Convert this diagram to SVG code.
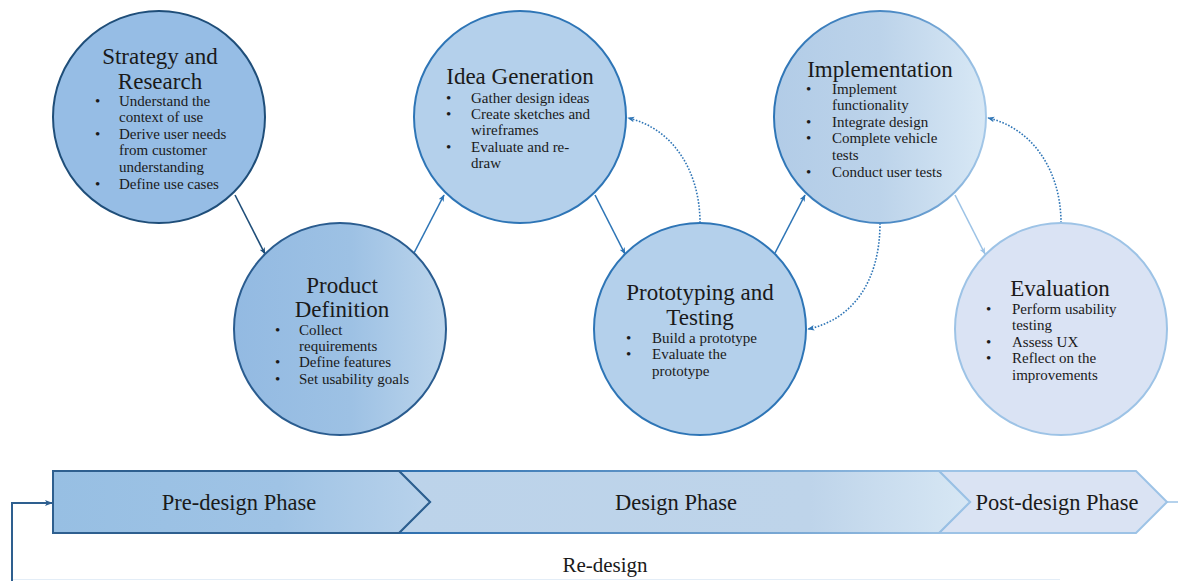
<svg xmlns="http://www.w3.org/2000/svg" width="1178" height="581" viewBox="0 0 1178 581">
<style>
text{font-family:'Liberation Serif','DejaVu Serif',serif;fill:#1a1a1a}
.t{font-size:23px;text-anchor:middle}
.b{font-size:15px}
.ph{font-size:22.5px;text-anchor:middle}
.node circle{stroke-width:2}
.arr{fill:none;stroke-width:1.6}
.dot{fill:none;stroke:#2e75b6;stroke-width:1.6;stroke-dasharray:1.6 1.6}
</style>
<defs>
<linearGradient id="g2" x1="0" y1="0" x2="1" y2="0"><stop offset="0" stop-color="#93bae2"/><stop offset="0.55" stop-color="#9dc1e4"/><stop offset="1" stop-color="#bcd5ec"/></linearGradient>
<linearGradient id="g5" x1="0" y1="0" x2="1" y2="0"><stop offset="0" stop-color="#b2cce7"/><stop offset="0.5" stop-color="#bcd3ea"/><stop offset="1" stop-color="#d8e8f5"/></linearGradient>
<linearGradient id="s5" x1="0" y1="0" x2="1" y2="0"><stop offset="0" stop-color="#2e75b6"/><stop offset="0.6" stop-color="#4f8cc6"/><stop offset="1" stop-color="#a5c8e8"/></linearGradient>
<linearGradient id="p1" gradientUnits="userSpaceOnUse" x1="53" y1="0" x2="430" y2="0"><stop offset="0" stop-color="#97bfe3"/><stop offset="0.6" stop-color="#9fc3e5"/><stop offset="1" stop-color="#b8d2eb"/></linearGradient>
<linearGradient id="p2" gradientUnits="userSpaceOnUse" x1="399" y1="0" x2="970" y2="0"><stop offset="0" stop-color="#bcd3ea"/><stop offset="0.72" stop-color="#bed4ea"/><stop offset="1" stop-color="#d7e7f4"/></linearGradient>
<linearGradient id="ps2" gradientUnits="userSpaceOnUse" x1="399" y1="0" x2="970" y2="0"><stop offset="0" stop-color="#2e6fae"/><stop offset="1" stop-color="#9dc3e6"/></linearGradient>
<marker id="mN" viewBox="0 0 10 10" refX="9" refY="5" markerWidth="7" markerHeight="7" orient="auto" markerUnits="userSpaceOnUse"><path d="M0,1 L10,5 L0,9 L2.5,5 Z" fill="#1f4e79"/></marker>
<marker id="mB" viewBox="0 0 10 10" refX="9" refY="5" markerWidth="7" markerHeight="7" orient="auto" markerUnits="userSpaceOnUse"><path d="M0,1 L10,5 L0,9 L2.5,5 Z" fill="#2e75b6"/></marker>
<marker id="mL" viewBox="0 0 10 10" refX="9" refY="5" markerWidth="7" markerHeight="7" orient="auto" markerUnits="userSpaceOnUse"><path d="M0,1 L10,5 L0,9 L2.5,5 Z" fill="#9dc3e6"/></marker>
<marker id="mD" viewBox="0 0 10 10" refX="9" refY="5" markerWidth="8" markerHeight="8" orient="auto" markerUnits="userSpaceOnUse"><path d="M0,1 L10,5 L0,9 L2.5,5 Z" fill="#2e5f8f"/></marker>
</defs>

<g id="connectors">
<path class="arr" d="M235,195 L265,254" stroke="#1f4e79" marker-end="url(#mN)"/>
<path class="arr" d="M414,253 L444,195" stroke="#2e75b6" marker-end="url(#mB)"/>
<path class="arr" d="M595,195 L625,254" stroke="#2e75b6" marker-end="url(#mB)"/>
<path class="arr" d="M775,253 L805,195" stroke="#2e75b6" marker-end="url(#mB)"/>
<path class="arr" d="M955,195 L985,254" stroke="#9dc3e6" marker-end="url(#mL)"/>
<path class="dot" d="M700,223 C700,170 672,128 628,118" marker-end="url(#mB)"/>
<path class="dot" d="M880,223 C880,282 852,320 808,329" marker-end="url(#mB)"/>
<path class="dot" d="M1061,223 C1061,170 1032,128 988,118" marker-end="url(#mB)"/>
<path d="M1060,579.5 L12,579.5" fill="none" stroke="#e3edf7" stroke-width="1.2"/>
<path d="M12,581 L12,503 L52,503" fill="none" stroke="#2e5f8f" stroke-width="2" marker-end="url(#mD)"/>
</g>

<g id="node-strategy" class="node">
<circle cx="159" cy="117" r="106" fill="#96bde5" stroke="#1f4e79"/>
<text class="t" x="160" y="64">Strategy and</text>
<text class="t" x="160" y="89">Research</text>
<text class="b" x="95" y="106">•</text><text class="b" x="119" y="106">Understand the</text>
<text class="b" x="119" y="122">context of use</text>
<text class="b" x="95" y="139">•</text><text class="b" x="119" y="139">Derive user needs</text>
<text class="b" x="119" y="155">from customer</text>
<text class="b" x="119" y="172">understanding</text>
<text class="b" x="95" y="189">•</text><text class="b" x="119" y="189">Define use cases</text>
</g>

<g id="node-product" class="node">
<circle cx="340" cy="329" r="106" fill="url(#g2)" stroke="#2a5c8f"/>
<text class="t" x="342" y="293">Product</text>
<text class="t" x="342" y="317">Definition</text>
<text class="b" x="275" y="335">•</text><text class="b" x="299" y="335">Collect</text>
<text class="b" x="299" y="351">requirements</text>
<text class="b" x="275" y="367">•</text><text class="b" x="299" y="367">Define features</text>
<text class="b" x="275" y="384">•</text><text class="b" x="299" y="384">Set usability goals</text>
</g>

<g id="node-idea" class="node">
<circle cx="520" cy="117" r="106" fill="#b4d0eb" stroke="#2e75b6"/>
<text class="t" x="520" y="84">Idea Generation</text>
<text class="b" x="446" y="103">•</text><text class="b" x="471" y="103">Gather design ideas</text>
<text class="b" x="446" y="119">•</text><text class="b" x="471" y="119">Create sketches and</text>
<text class="b" x="471" y="135">wireframes</text>
<text class="b" x="446" y="152">•</text><text class="b" x="471" y="152">Evaluate and re-</text>
<text class="b" x="471" y="168">draw</text>
</g>

<g id="node-prototyping" class="node">
<circle cx="700" cy="329" r="106" fill="#b4d0eb" stroke="#2e75b6"/>
<text class="t" x="700" y="300">Prototyping and</text>
<text class="t" x="700" y="325">Testing</text>
<text class="b" x="626" y="343">•</text><text class="b" x="652" y="343">Build a prototype</text>
<text class="b" x="626" y="359">•</text><text class="b" x="652" y="359">Evaluate the</text>
<text class="b" x="652" y="376">prototype</text>
</g>

<g id="node-implementation" class="node">
<circle cx="880" cy="117" r="106" fill="url(#g5)" stroke="url(#s5)"/>
<text class="t" x="880" y="77">Implementation</text>
<text class="b" x="806" y="94">•</text><text class="b" x="832" y="94">Implement</text>
<text class="b" x="832" y="110">functionality</text>
<text class="b" x="806" y="127">•</text><text class="b" x="832" y="127">Integrate design</text>
<text class="b" x="806" y="143">•</text><text class="b" x="832" y="143">Complete vehicle</text>
<text class="b" x="832" y="160">tests</text>
<text class="b" x="806" y="177">•</text><text class="b" x="832" y="177">Conduct user tests</text>
</g>

<g id="node-evaluation" class="node">
<circle cx="1061" cy="329" r="106" fill="#dae3f4" stroke="#9dc3e6"/>
<text class="t" x="1060" y="296">Evaluation</text>
<text class="b" x="986" y="314">•</text><text class="b" x="1012" y="314">Perform usability</text>
<text class="b" x="1012" y="330">testing</text>
<text class="b" x="986" y="347">•</text><text class="b" x="1012" y="347">Assess UX</text>
<text class="b" x="986" y="363">•</text><text class="b" x="1012" y="363">Reflect on the</text>
<text class="b" x="1012" y="380">improvements</text>
</g>

<g id="phase-post">
<path d="M1167,502 L1178,502" stroke="#9dc3e6" stroke-width="1.5"/>
<path d="M939,471 L1136,471 L1167,502 L1136,533 L939,533 L970,502 Z" fill="#dae3f3" stroke="#9dc3e6" stroke-width="2"/>
<text class="ph" x="1057" y="510">Post-design Phase</text>
</g>
<g id="phase-design">
<path d="M399,471 L939,471 L970,502 L939,533 L399,533 L430,502 Z" fill="url(#p2)" stroke="url(#ps2)" stroke-width="2"/>
<text class="ph" x="676" y="510">Design Phase</text>
</g>
<g id="phase-pre">
<path d="M53,471 L399,471 L430,502 L399,533 L53,533 Z" fill="url(#p1)" stroke="#2e5f8f" stroke-width="2"/>
<text class="ph" x="239" y="510">Pre-design Phase</text>
</g>

<g id="label-redesign">
<text x="605" y="572" style="font-size:21px;text-anchor:middle">Re-design</text>
</g>
</svg>
